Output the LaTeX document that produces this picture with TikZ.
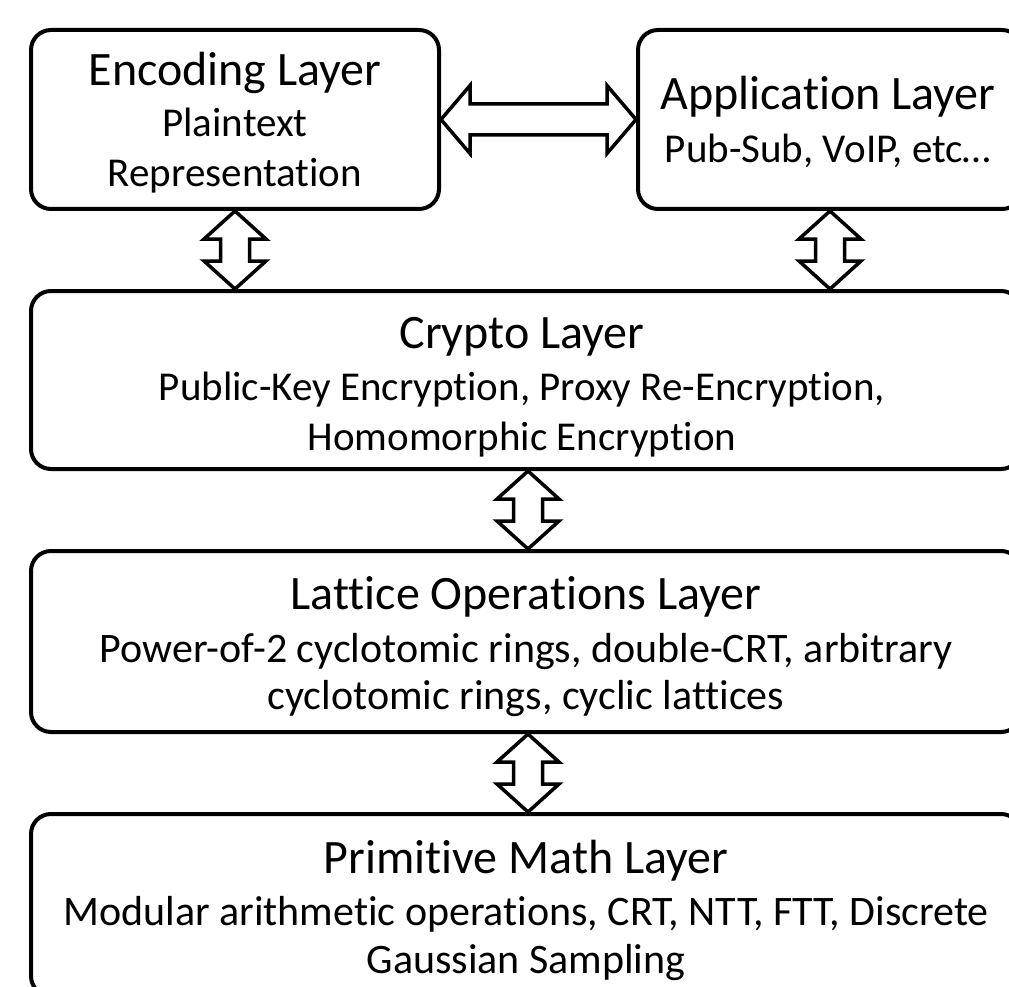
\documentclass[tikz,border=0pt]{standalone}
\usepackage{fontspec}
\setmainfont{Carlito}[Ligatures={NoCommon}]
\usetikzlibrary{calc}
\tikzset{
  layerbox/.style={draw, line width=4pt, rounded corners=20pt, inner sep=0pt},
  titletext/.style={font=\fontsize{48}{50}\selectfont, anchor=base, inner sep=0pt},
  subtext/.style={font=\fontsize{41}{44}\selectfont, anchor=base, inner sep=0pt},
  bigsubtext/.style={font=\fontsize{42}{44}\selectfont, anchor=base, inner sep=0pt},
  fatarrow/.style={draw, fill=white, line width=3.5pt, line join=miter}
}
\newcommand{\vfat}[2]{%
  \draw[fatarrow] let \p1=(#1), \p2=(#2) in
    (\x1,\y1) -- (\x1+31pt,\y1-28pt) -- (\x1+14.5pt,\y1-28pt) -- (\x1+14.5pt,\y2+28pt)
    -- (\x1+31pt,\y2+28pt) -- (\x2,\y2) -- (\x1-31pt,\y2+28pt) -- (\x1-14.5pt,\y2+28pt)
    -- (\x1-14.5pt,\y1-28pt) -- (\x1-31pt,\y1-28pt) -- cycle;}
\newcommand{\hfat}[2]{%
  \draw[fatarrow] let \p1=(#1), \p2=(#2) in
    (\x1,\y1) -- (\x1+29pt,\y1+34pt) -- (\x1+29pt,\y1+15.5pt) -- (\x2-29pt,\y1+15.5pt)
    -- (\x2-29pt,\y1+34pt) -- (\x2,\y2) -- (\x2-29pt,\y1-34pt) -- (\x2-29pt,\y1-15.5pt)
    -- (\x1+29pt,\y1-15.5pt) -- (\x1+29pt,\y1-34pt) -- cycle;}
\begin{document}
\begin{tikzpicture}[x=1pt,y=-1pt]
\clip (0,0) rectangle (1009,987);
\fill[white] (0,0) rectangle (1009,987);

% boxes
\node[layerbox, minimum width=408pt, minimum height=179pt] (enc) at (235,119.5) {};
\node[layerbox, minimum width=384pt, minimum height=179pt] (app) at (830,119.5) {};
\node[layerbox, minimum width=990pt, minimum height=178pt] (crypto) at (526,380) {};
\node[layerbox, minimum width=990pt, minimum height=181pt] (lattice) at (526,641.5) {};
\node[layerbox, minimum width=990pt, minimum height=182pt] (prim) at (526,905) {};

% texts
\node[titletext] (encT) at (235,86) {Encoding Layer};
\node[subtext] (encS1) at (235,137) {Plaintext};
\node[subtext] (encS2) at (235,187) {Representation};

\node[titletext] (appT) at (828,110) {Application Layer};
\node[subtext] (appS) at (828,163) {Pub-Sub, VoIP, etc\dots};

\node[titletext] (cryT) at (522,348) {Crypto Layer};
\node[subtext] (cryS1) at (522,400) {Public-Key Encryption, Proxy Re-Encryption,};
\node[subtext] (cryS2) at (522,450) {Homomorphic Encryption};

\node[titletext] (latT) at (526,609) {Lattice Operations Layer};
\node[bigsubtext] (latS1) at (526,662) {Power-of-2 cyclotomic rings, double-CRT, arbitrary};
\node[bigsubtext] (latS2) at (526,709) {cyclotomic rings, cyclic lattices};

\node[titletext] (primT) at (526,873) {Primitive Math Layer};
\node[bigsubtext] (primS1) at (526,925) {Modular arithmetic operations, CRT, NTT, FTT, Discrete};
\node[bigsubtext] (primS2) at (526,973) {Gaussian Sampling};

% connectors
\coordinate (a1s) at (enc.south);
\coordinate (a1e) at (enc.south |- crypto.north);
\coordinate (a2s) at (app.south);
\coordinate (a2e) at (a2s |- crypto.north);
\coordinate (a3s) at ([xshift=2pt]crypto.south);
\coordinate (a3e) at (a3s |- lattice.north);
\coordinate (a4s) at ([xshift=2pt]lattice.south);
\coordinate (a4e) at (a4s |- prim.north);

\hfat{enc.east}{app.west}
\vfat{a1s}{a1e}
\vfat{a2s}{a2e}
\vfat{a3s}{a3e}
\vfat{a4s}{a4e}
\end{tikzpicture}
\end{document}
